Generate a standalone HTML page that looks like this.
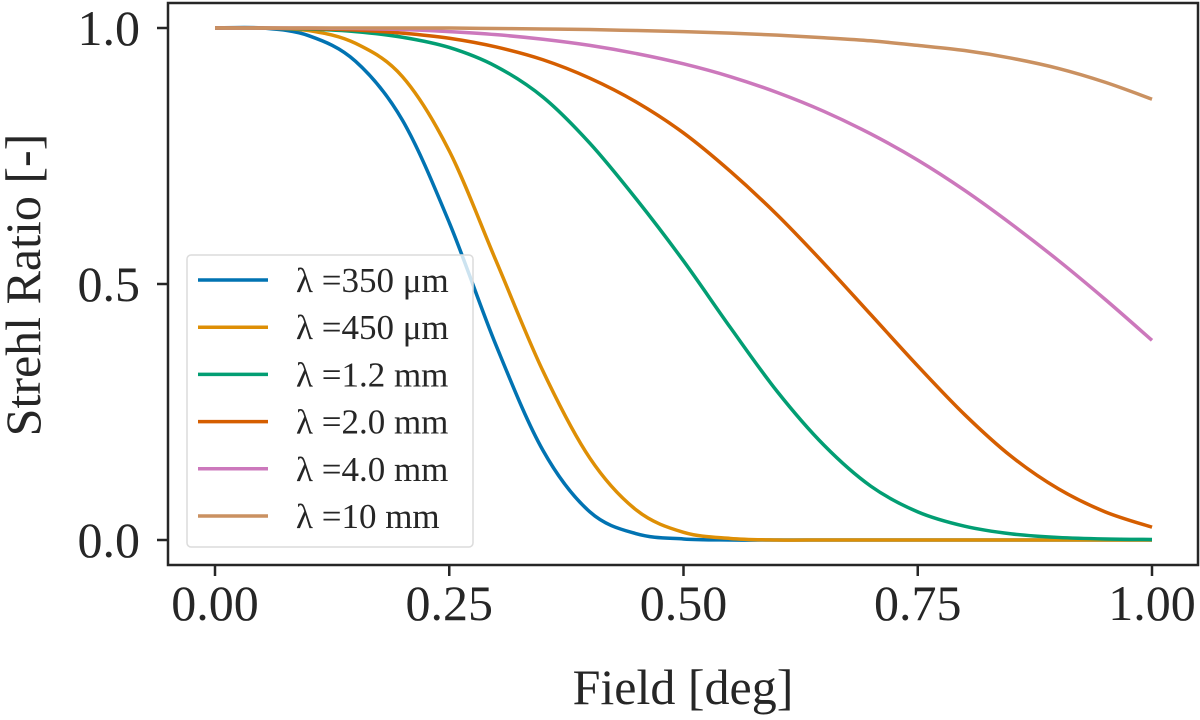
<!DOCTYPE html>
<html><head><meta charset="utf-8"><style>
body{margin:0;background:#fff}
svg text{font-family:"Liberation Serif",serif;fill:#262626}
</style></head><body>
<svg width="1200" height="715" viewBox="0 0 1200 715">
<g id="series"></g>
<rect x="168" y="3" width="1030" height="562" fill="none" stroke="#262626" stroke-width="2.5"/>
<g id="xt"></g>
<g id="yt"></g>
<text x="683" y="704" font-size="50" text-anchor="middle">Field [deg]</text>
<text transform="translate(40,285) rotate(-90)" font-size="50" text-anchor="middle">Strehl Ratio [-]</text>
<g id="legend"></g>
</svg>
<script>
const xs=[0,0.05,0.1,0.15,0.2,0.25,0.3,0.35,0.4,0.45,0.5,0.55,0.6,0.65,0.7,0.75,0.8,0.85,0.9,0.95,1.0];
const s350=[1,1,0.985,0.935,0.82,0.62,0.38,0.175,0.055,0.012,0.002,0,0,0,0,0,0,0,0,0,0];
const s450=[1,1,0.995,0.97,0.905,0.76,0.545,0.33,0.16,0.058,0.015,0.003,0,0,0,0,0,0,0,0,0];
const s1200=[1,1,0.998,0.993,0.982,0.962,0.925,0.865,0.775,0.665,0.545,0.415,0.29,0.185,0.105,0.055,0.027,0.012,0.005,0.002,0.001];
const s2000=[1,1,0.999,0.996,0.99,0.98,0.963,0.938,0.902,0.855,0.795,0.72,0.635,0.54,0.44,0.34,0.245,0.163,0.1,0.055,0.025];
const s4000=[1,1,1,0.999,0.997,0.993,0.987,0.978,0.966,0.95,0.93,0.905,0.874,0.837,0.793,0.742,0.683,0.617,0.546,0.47,0.39];
const s10000=[1,1,1,1,1,1,0.999,0.998,0.997,0.995,0.993,0.99,0.986,0.981,0.975,0.966,0.956,0.941,0.921,0.894,0.861];
const labels=["\u03bb =350 \u03bcm","\u03bb =450 \u03bcm","\u03bb =1.2 mm","\u03bb =2.0 mm","\u03bb =4.0 mm","\u03bb =10 mm"];
const colors=["#0173b2","#de8f05","#029e73","#d55e00","#cc78bc","#ca9161"];
const xticks=[0,0.25,0.5,0.75,1.0];
const xtickLabels=["0.00","0.25","0.50","0.75","1.00"];
const yticks=[0,0.5,1.0];
const ytickLabels=["0.0","0.5","1.0"];
const allSeries=[s350,s450,s1200,s2000,s4000,s10000];
const NS="http://www.w3.org/2000/svg";
const X=v=>215+937*v, Y=v=>540-512*v;
function mk(t,a,p){const e=document.createElementNS(NS,t);for(const k in a)e.setAttribute(k,a[k]);p.appendChild(e);return e;}
function path(ys){const p=xs.map((x,i)=>[X(x),Y(ys[i])]);let d="M"+p[0][0]+","+p[0][1];
for(let i=0;i<p.length-1;i++){const p0=p[Math.max(0,i-1)],p1=p[i],p2=p[i+1],p3=p[Math.min(p.length-1,i+2)];
d+=" C"+(p1[0]+(p2[0]-p0[0])/6)+","+(p1[1]+(p2[1]-p0[1])/6)+" "+(p2[0]-(p3[0]-p1[0])/6)+","+(p2[1]-(p3[1]-p1[1])/6)+" "+p2[0]+","+p2[1];}return d;}
const sg=document.getElementById('series');
allSeries.forEach((s,i)=>{const e=mk('path',{d:path(s),fill:'none',stroke:colors[i],'stroke-width':3.5},sg);

});
const xt=document.getElementById('xt');
xticks.forEach((v,i)=>{const l=mk('line',{x1:X(v),x2:X(v),y1:565,y2:576,stroke:'#262626','stroke-width':2.5},xt);


const t=mk('text',{x:X(v),y:620,'font-size':50,'text-anchor':'middle'},xt);t.textContent=xtickLabels[i];

});
const yt=document.getElementById('yt');
yticks.forEach((v,i)=>{const l=mk('line',{x1:157,x2:168,y1:Y(v),y2:Y(v),stroke:'#262626','stroke-width':2.5},yt);


const t=mk('text',{x:140,y:Y(v)+17,'font-size':50,'text-anchor':'end'},yt);t.textContent=ytickLabels[i];

});
const lg=document.getElementById('legend');
mk('rect',{x:187,y:255,width:286,height:292,rx:4,fill:'#fff','fill-opacity':0.8,stroke:'#dcdcdc','stroke-width':1.5},lg);
labels.forEach((lab,i)=>{const y=280+47.2*i;
const g=mk('g',{},lg);


mk('line',{x1:198,x2:268,y1:y,y2:y,stroke:colors[i],'stroke-width':3.5},g);
const t=mk('text',{x:296,y:y+12,'font-size':35},g);t.textContent=lab;});
</script>
</body></html>
